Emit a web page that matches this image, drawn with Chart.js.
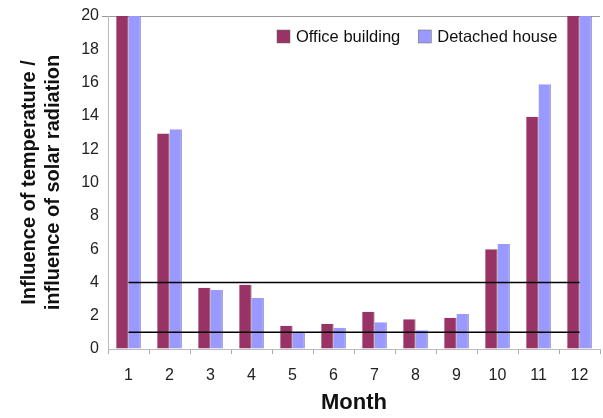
<!DOCTYPE html>
<html>
<head>
<meta charset="utf-8">
<script src="https://cdn.jsdelivr.net/npm/chart.js@4/dist/chart.umd.min.js"></script>
<style>
    html, body { margin: 0; padding: 0; background: #fff; }
    #wrap { width: 603px; height: 418px; }
</style>
</head>
<body>
<div id="wrap"><canvas id="chart" width="603" height="418"></canvas></div>
<script>
const months = ['1', '2', '3', '4', '5', '6', '7', '8', '9', '10', '11', '12'];
const officeBuilding = [20, 12.95, 3.68, 3.86, 1.4, 1.52, 2.24, 1.78, 1.88, 5.99, 13.95, 20];
const detachedHouse = [20, 13.2, 3.55, 3.06, 1.02, 1.27, 1.6, 1.13, 2.1, 6.3, 15.9, 20];
const upperLimit = [4, 4, 4, 4, 4, 4, 4, 4, 4, 4, 4, 4];
const lowerLimit = [1, 1, 1, 1, 1, 1, 1, 1, 1, 1, 1, 1];
const yTicks = [0, 2, 4, 6, 8, 10, 12, 14, 16, 18, 20];

const FONT = '"Liberation Sans", Arial, sans-serif';

// legend drawn inside the plot, top right, like the Excel original
const insideLegend = {
    id: 'insideLegend',
    afterDraw(chart) {
        const ctx = chart.ctx;
        const items = chart.data.datasets.filter(d => d.type !== 'line');
        let x = 277;
        const y = 36;
        ctx.save();
        ctx.font = '16.5px ' + FONT;
        ctx.textBaseline = 'middle';
        items.forEach(d => {
            ctx.fillStyle = d.backgroundColor;
            ctx.fillRect(x, y - 6, 13, 13);
            ctx.strokeStyle = '#666';
            ctx.lineWidth = 0.5;
            ctx.strokeRect(x, y - 6, 13, 13);
            ctx.fillStyle = '#111';
            ctx.fillText(d.label, x + 19, y + 1);
            x += 19 + ctx.measureText(d.label).width + 18;
        });
        ctx.restore();
    }
};

new Chart(document.getElementById('chart'), {
    type: 'bar',
    data: {
        labels: months,
        datasets: [
            {
                type: 'line', label: 'upper', data: upperLimit,
                borderColor: '#000', borderWidth: 1.5, pointRadius: 0, order: 0
            },
            {
                type: 'line', label: 'lower', data: lowerLimit,
                borderColor: '#000', borderWidth: 1.5, pointRadius: 0, order: 0
            },
            {
                label: 'Office building', data: officeBuilding,
                backgroundColor: '#993366', borderColor: '#5c1f3e',
                borderWidth: { left: 0, top: 0, bottom: 0, right: 1 },
                categoryPercentage: 0.6, barPercentage: 1, order: 1
            },
            {
                label: 'Detached house', data: detachedHouse,
                backgroundColor: '#9999FF', borderColor: '#7373b8',
                borderWidth: { left: 0, top: 0, bottom: 0, right: 1 },
                categoryPercentage: 0.6, barPercentage: 1, order: 1
            }
        ]
    },
    options: {
        responsive: false,
        animation: false,
        layout: { padding: { left: 0, right: 3, top: 16, bottom: 0 } },
        plugins: {
            legend: { display: false },
            tooltip: { enabled: false }
        },
        scales: {
            x: {
                afterFit: s => { s.height = 69; },
                grid: {
                    offset: true, drawOnChartArea: false, drawTicks: true,
                    tickLength: 5, color: '#aaa'
                },
                border: { color: '#bbb', width: 1 },
                ticks: { color: '#222', font: { family: FONT, size: 16 }, padding: 12 },
                title: {
                    display: true, text: 'Month', color: '#111',
                    font: { family: FONT, size: 22, weight: 'bold' },
                    padding: { top: 0, bottom: 2 }
                }
            },
            y: {
                min: 0, max: 20,
                afterFit: s => { s.width = 108; },
                afterBuildTicks: s => { s.ticks = yTicks.map(v => ({ value: v })); },
                grid: {
                    drawOnChartArea: true, drawTicks: true, tickLength: 6,
                    color: c => c.tick && c.tick.value === 20 ? '#999' : 'rgba(0,0,0,0)'
                },
                border: { color: '#bbb', width: 1 },
                ticks: { color: '#222', font: { family: FONT, size: 16 }, padding: 3 },
                title: {
                    display: true,
                    text: ['Influence of temperature /', 'influence of solar radiation'],
                    color: '#111',
                    font: { family: FONT, size: 20, weight: 'bold', lineHeight: 1.2 },
                    padding: { top: 17, bottom: 0 }
                }
            }
        }
    },
    plugins: [insideLegend]
});
</script>
</body>
</html>
